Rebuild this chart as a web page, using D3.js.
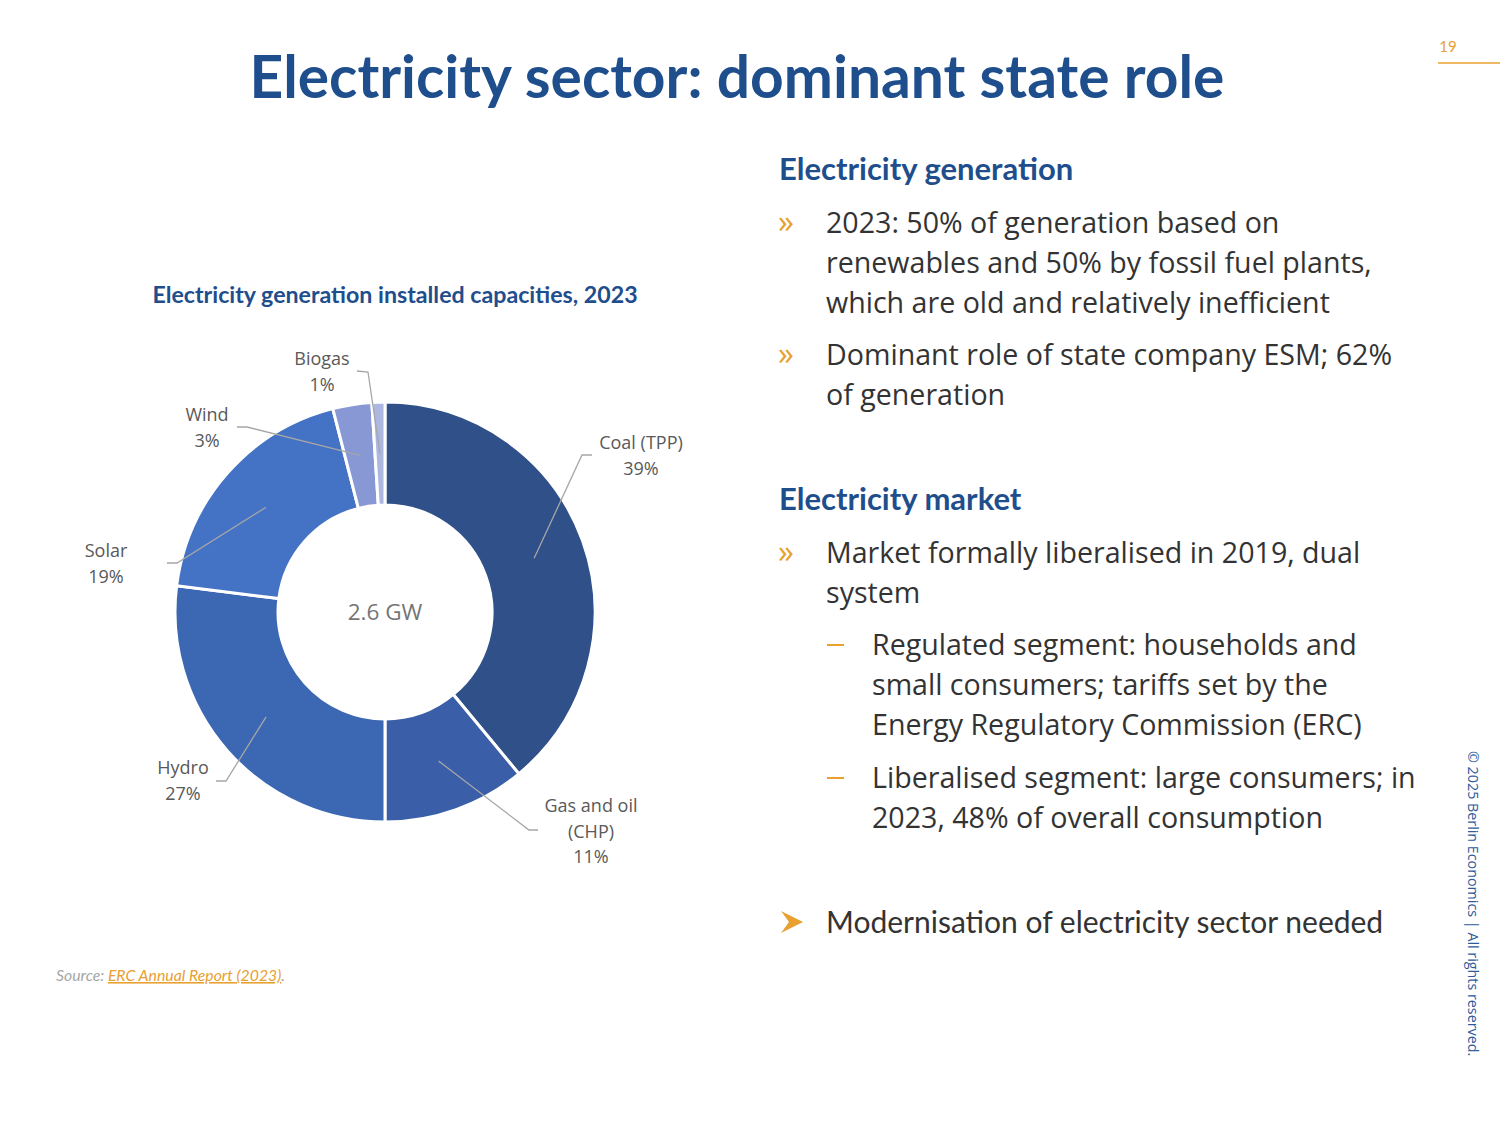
<!DOCTYPE html>
<html>
<head>
<meta charset="utf-8">
<script src="https://cdn.jsdelivr.net/npm/d3@7"></script>
<style>
  body { margin: 0; background: #ffffff; }
  svg { display: block; }
</style>
</head>
<body>
<div id="slide"></div>
<script>
// data
const categories = ["Coal (TPP)", "Gas and oil (CHP)", "Hydro", "Solar", "Wind", "Biogas"];
const shares = [39, 11, 27, 19, 3, 1];
const labelLines = [["Coal (TPP)", "39%"], ["Gas and oil", "(CHP)", "11%"], ["Hydro", "27%"], ["Solar", "19%"], ["Wind", "3%"], ["Biogas", "1%"]];
const totalLabel = "2.6 GW";

// layout / style
const colors = ["#2f5089", "#3a5ea7", "#3c67b3", "#4472c4", "#8798d5", "#adb8e0"];
// label centre + elbow of the leader line, per slice
const labelPos = [
  { x: 641, y: 443, elbow: [582, 455], end: [592, 455] },
  { x: 591, y: 806, elbow: [529, 830], end: [538, 830] },
  { x: 183, y: 768, elbow: [226, 781], end: [216, 781] },
  { x: 106, y: 551, elbow: [177, 563], end: [167, 563] },
  { x: 207, y: 415, elbow: [247, 427], end: [237, 427] },
  { x: 322, y: 359, elbow: [368, 372], end: [357, 371] }
];

const W = 1500, H = 1125;
const svg = d3.select("#slide").append("svg").attr("width", W).attr("height", H);
svg.append("rect").attr("width", W).attr("height", H).attr("fill", "#ffffff");

const blue = "#1f4e8d";
const orange = "#e8a030";

// title
svg.append("text")
  .attr("x", 737).attr("y", 98)
  .attr("text-anchor", "middle")
  .style("font-family", "Lato")
  .style("font-weight", "bold")
  .style("font-size", "58.7px")
  .style("fill", blue)
  .text("Electricity sector: dominant state role");

// page number
svg.append("text").attr("x", 1448).attr("y", 52)
  .attr("text-anchor", "middle")
  .style("font-family", "Lato").style("font-size", "15px").style("fill", orange)
  .text("19");
svg.append("line").attr("x1", 1438).attr("x2", 1500).attr("y1", 63).attr("y2", 63)
  .attr("stroke", orange).attr("stroke-width", 1.5);

// copyright
svg.append("text")
  .attr("transform", "translate(1468,751) rotate(90)")
  .style("font-family", "Open Sans").style("font-size", "14.3px").style("fill", "#2e5b9a")
  .text("© 2025 Berlin Economics | All rights reserved.");

// chart title
svg.append("text").attr("x", 395).attr("y", 303)
  .attr("text-anchor", "middle")
  .style("font-family", "Lato").style("font-weight", "bold").style("font-size", "23.2px")
  .style("fill", blue)
  .text("Electricity generation installed capacities, 2023");

// donut
const cx = 385, cy = 612, rOuter = 210, rInner = 107;
const pie = d3.pie().sort(null).value(d => d);
const arcs = pie(shares);
const arc = d3.arc().innerRadius(rInner).outerRadius(rOuter);
const g = svg.append("g").attr("transform", `translate(${cx},${cy})`);

g.selectAll("path.slice")
  .data(arcs)
  .join("path")
  .attr("class", "slice")
  .attr("d", arc)
  .attr("fill", (d, i) => colors[i])
  .attr("stroke", "#ffffff")
  .attr("stroke-width", 3);

// leader lines
g.selectAll("polyline.leader")
  .data(arcs)
  .join("polyline")
  .attr("class", "leader")
  .attr("points", (d, i) => {
    const c = arc.centroid(d);
    const p = labelPos[i];
    return [c, [p.elbow[0] - cx, p.elbow[1] - cy], [p.end[0] - cx, p.end[1] - cy]].map(q => q.join(",")).join(" ");
  })
  .attr("fill", "none")
  .attr("stroke", "#a6a6a6")
  .attr("stroke-width", 1.3);

// labels
svg.selectAll("text.lab")
  .data(categories)
  .join("text")
  .attr("class", "lab")
  .attr("x", (d, i) => labelPos[i].x)
  .attr("y", (d, i) => labelPos[i].y + 6)
  .attr("text-anchor", "middle")
  .style("font-family", "Open Sans").style("font-size", "18px").style("fill", "#595959")
  .each(function(d, i) {
    d3.select(this).selectAll("tspan")
      .data(labelLines[i])
      .join("tspan")
      .attr("x", labelPos[i].x)
      .attr("dy", (t, j) => j === 0 ? 0 : 25.5)
      .text(t => t);
  });

svg.append("text").attr("x", cx).attr("y", cy + 8)
  .attr("text-anchor", "middle")
  .style("font-family", "Open Sans").style("font-size", "22.5px").style("fill", "#757575")
  .text(totalLabel);

// source
const src = svg.append("text").attr("x", 56).attr("y", 981)
  .style("font-family", "Lato").style("font-style", "italic").style("font-size", "15.8px");
src.append("tspan").style("fill", "#a6a6a6").text("Source: ");
src.append("tspan").style("fill", orange).style("text-decoration", "underline").text("ERC Annual Report (2023)");
src.append("tspan").style("fill", "#a6a6a6").text(".");

// right-hand text
const textColor = "#333333";
function heading(txt, y) {
  svg.append("text").attr("x", 779).attr("y", y)
    .style("font-family", "Lato").style("font-weight", "bold").style("font-size", "31px")
    .style("fill", blue).text(txt);
}
function lines(tx, y, rows) {
  const t = svg.append("text").attr("x", tx).attr("y", y)
    .style("font-family", "Open Sans").style("font-size", "28.6px").style("fill", textColor);
  t.selectAll("tspan").data(rows).join("tspan")
    .attr("x", tx).attr("dy", (d, j) => j === 0 ? 0 : 40).text(d => d);
}
function bullet(y, rows) {
  svg.append("text").attr("x", 778).attr("y", y)
    .style("font-family", "Open Sans").style("font-size", "32px").style("fill", orange)
    .text("»");
  lines(826, y, rows);
}
function dash(y, rows) {
  svg.append("line").attr("x1", 827).attr("x2", 844).attr("y1", y - 10).attr("y2", y - 10)
    .attr("stroke", orange).attr("stroke-width", 2);
  lines(872, y, rows);
}

heading("Electricity generation", 180);
bullet(233, ["2023: 50% of generation based on", "renewables and 50% by fossil fuel plants,", "which are old and relatively inefficient"]);
bullet(365, ["Dominant role of state company ESM; 62%", "of generation"]);
heading("Electricity market", 510);
bullet(563, ["Market formally liberalised in 2019, dual", "system"]);
dash(655, ["Regulated segment: households and", "small consumers; tariffs set by the", "Energy Regulatory Commission (ERC)"]);
dash(788, ["Liberalised segment: large consumers; in", "2023, 48% of overall consumption"]);

// arrow marker + conclusion
svg.append("path")
  .attr("d", "M781,911 L803,922 L781,933 L789,922 Z")
  .attr("fill", orange);
svg.append("text").attr("x", 826).attr("y", 933)
  .style("font-family", "Lato").style("font-size", "30px").style("fill", textColor)
  .text("Modernisation of electricity sector needed");
</script>
</body>
</html>
